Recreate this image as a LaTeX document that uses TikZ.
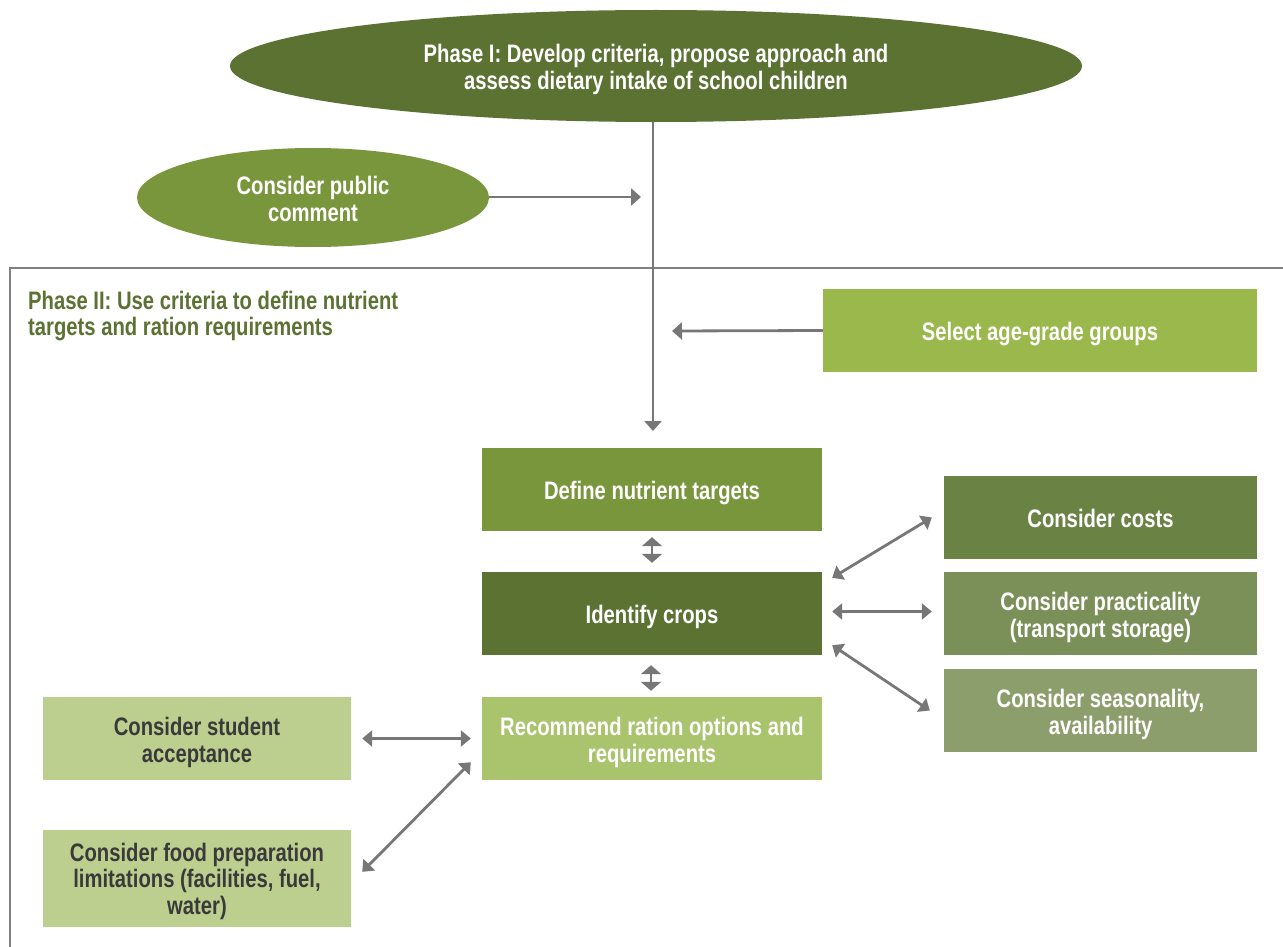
\documentclass[tikz,border=0pt]{standalone}
\usepackage{fontspec}
\setmainfont[FakeStretch=0.8]{Liberation Sans}
\usetikzlibrary{arrows.meta,calc,shapes.geometric}
\definecolor{gdark}{HTML}{5B7233}
\definecolor{gmid}{HTML}{7A963D}
\definecolor{gsel}{HTML}{9AB84C}
\definecolor{grec}{HTML}{A9C46D}
\definecolor{gcost}{HTML}{6B8245}
\definecolor{gprac}{HTML}{7B9058}
\definecolor{gseas}{HTML}{8D9E6D}
\definecolor{glite}{HTML}{BDCF8F}
\definecolor{arr}{HTML}{777777}
\definecolor{frame}{HTML}{808080}
\definecolor{dtext}{HTML}{3A3A3A}
\begin{document}
\begin{tikzpicture}[x=1pt,y=-1pt,
  txt/.style={font=\fontsize{25.3}{26.5}\selectfont\bfseries, align=center},
  one/.style={text height=27pt, text depth=7pt},
  two/.style={text height=54pt, text depth=7pt},
  three/.style={text height=78pt, text depth=7pt},
  box/.style={txt, rectangle, inner sep=0pt, minimum width=340pt, minimum height=83pt, text=white},
  oval/.style={txt, two, ellipse, inner sep=0pt, text=white},
  conn/.style={draw=arr, line width=2.8pt, -{Triangle[length=10pt,width=17pt]}},
  dbl/.style={draw=arr, line width=2.8pt, {Triangle[length=10pt,width=16pt]}-{Triangle[length=10pt,width=16pt]}},
  sdbl/.style={draw=arr, line width=2.8pt, {Triangle[length=9pt,width=20pt]}-{Triangle[length=9pt,width=20pt]}}
]
\useasboundingbox (0,0) rectangle (1283,947);
\fill[white] (0,0) rectangle (1283,947);
% frame
\draw[frame, line width=2pt] (10,947) -- (10,268) -- (1284,268);

% Phase I ellipse
\node[oval, fill=gdark, minimum width=852pt, minimum height=112pt] (p1) at (656,66)
  {Phase I: Develop criteria, propose approach and\\assess dietary intake of school children};
\node[oval, fill=gmid, minimum width=352pt, minimum height=99pt] (pub) at (313,197.5)
  {Consider public\\comment};

\node[txt, two, text=gdark, align=left, anchor=west, inner sep=0pt] (p2) at (28,312)
  {Phase II: Use criteria to define nutrient\\targets and ration requirements};

\node[box, one, fill=gsel, minimum width=434pt] (sel) at (1040,330.5) {Select age-grade groups};
\node[box, one, fill=gmid] (def) at (652,489.5) {Define nutrient targets};
\node[box, one, fill=gdark] (ident) at (652,613.5) {Identify crops};
\node[box, two, fill=grec] (rec) at (652,738.5) {Recommend ration options and\\requirements};

\node[box, one, fill=gcost, minimum width=313pt] (cost) at (1100.5,517.5) {Consider costs};
\node[box, two, fill=gprac, minimum width=313pt] (prac) at (1100.5,613.5) {Consider practicality\\(transport storage)};
\node[box, two, fill=gseas, minimum width=313pt] (seas) at (1100.5,710.5) {Consider seasonality,\\availability};

\node[box, two, fill=glite, text=dtext, minimum width=308pt] (stud) at (197,738.5) {Consider student\\acceptance};
\node[box, three, fill=glite, text=dtext, minimum width=308pt, minimum height=97pt] (food) at (197,878.5)
  {Consider food preparation\\limitations (facilities, fuel,\\water)};

% connectors
\coordinate (c1) at (653,431);
\coordinate (c2) at (641,197);
\coordinate (c3) at (672,331);
\draw[draw=arr, line width=2.6pt] (c1 |- p1.south) -- (c1 |- 0,268);
\draw[conn] (c1 |- 0,268) -- (c1);
\draw[conn] (pub.east |- c2) -- (c2);
\draw[conn] (sel.west) -- (c3);

\draw[sdbl] ($(def.south)+(0,6)$) -- ($(ident.north)+(0,-9)$);
\draw[sdbl] ($(ident.south)+(-1,10)$) -- ($(rec.north)+(-1,-6)$);

\draw[dbl] ($(ident.north east)+(10,6)$) -- ($(cost.west)+(-12,0)$);
\draw[dbl] ($(ident.east)+(10,-2)$) -- ($(prac.west)+(-12,-2)$);
\draw[dbl] ($(ident.south east)+(10,-10)$) -- ($(seas.west)+(-14,0)$);

\draw[dbl] ($(stud.east)+(11,0)$) -- ($(rec.west)+(-11,0)$);
\draw[dbl] ($(food.north east)+(11,42)$) -- ($(rec.south west)+(-11,-18)$);
\end{tikzpicture}
\end{document}
